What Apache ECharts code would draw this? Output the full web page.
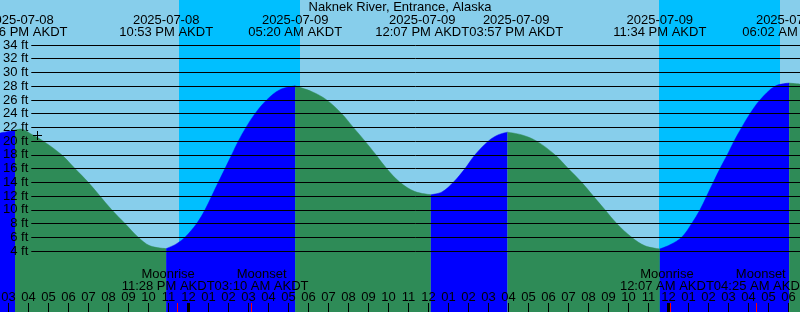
<!DOCTYPE html>
<html><head><meta charset="utf-8">
<script src="https://cdn.jsdelivr.net/npm/echarts@6/dist/echarts.min.js"></script>
<style>html,body{margin:0;padding:0;background:#87CEEB}#c{width:800px;height:312px}</style>
</head><body><div id="c"></div>
<script>
// ---------- data ----------
const chartTitle = 'Naknek River, Entrance, Alaska';
// hours counted from 2025-07-08 00:00 AKDT
const tideHours = [14.575, 15.325, 15.6, 16.175, 16.74, 17.66, 18.325, 18.99, 19.575, 20.16, 20.825, 21.49, 22.075, 22.883,
  23.375, 23.825, 24.41, 24.825, 25.16, 25.49, 25.825, 26.16, 26.49, 26.875, 27.325, 27.91, 28.575, 29.333,
  30.175, 30.91, 31.66, 32.24, 32.825, 33.375, 33.91, 34.575, 35.325, 36.117,
  36.675, 37.24, 37.825, 38.325, 38.99, 39.475, 39.95,
  40.675, 41.41, 42.325, 42.99, 43.66, 44.24, 44.825, 45.41, 46.16, 46.825, 47.567,
  48.075, 48.66, 49.16, 49.575, 49.91, 50.24, 50.575, 50.94, 51.275, 51.66, 52.075, 52.575, 53.325, 54.033,
  54.575];
const tideFeet = [21.2, 21.6, 21.75, 20.95, 20, 18, 16, 14, 12, 10, 8, 6, 4.75, 4.35,
  5.0, 6, 8, 10, 12, 14, 16, 18, 20, 22, 24, 26, 27.5, 28.05,
  27.2, 26, 24, 22, 20, 18, 16, 14, 12.65, 12.2,
  12.6, 14, 16, 18, 20, 20.9, 21.3,
  20.9, 20, 18, 16, 14, 12, 10, 8, 6, 4.75, 4.3,
  4.9, 6, 8, 10, 12, 14, 16, 18, 20, 22, 24, 26, 28, 28.45,
  28.3];
// times where the fill switches between flood (rising) and ebb (falling)
const turnHours = [15.325, 22.883, 29.333, 36.117, 39.95, 47.567, 54.033];
const firstPhaseRising = true;

const eventHours = [15.6, 22.883, 29.333, 36.117, 39.95, 47.567, 54.033];
const eventDates = ['2025-07-08', '2025-07-08', '2025-07-09', '2025-07-09', '2025-07-09', '2025-07-09', '2025-07-10'];
const eventTimes = ['03:36 PM AKDT', '10:53 PM AKDT', '05:20 AM AKDT', '12:07 PM AKDT', '03:57 PM AKDT', '11:34 PM AKDT', '06:02 AM AKDT'];

const moonHours = [23.467, 27.167, 48.117, 52.417];
const moonNames = ['Moonrise', 'Moonset', 'Moonrise', 'Moonset'];
const moonTimes = ['11:28 PM AKDT', '03:10 AM AKDT', '12:07 AM AKDT', '04:25 AM AKDT'];

const sunsetHours = [23.533, 47.533];
const sunriseHours = [29.583, 53.583];

const hourTicks = [15, 16, 17, 18, 19, 20, 21, 22, 23, 24, 25, 26, 27, 28, 29, 30, 31, 32, 33, 34, 35, 36, 37, 38, 39, 40,
  41, 42, 43, 44, 45, 46, 47, 48, 49, 50, 51, 52, 53, 54];
const hourLabels = ['03', '04', '05', '06', '07', '08', '09', '10', '11', '12', '01', '02', '03', '04', '05', '06', '07', '08',
  '09', '10', '11', '12', '01', '02', '03', '04', '05', '06', '07', '08', '09', '10', '11', '12', '01', '02', '03', '04', '05', '06'];
const midnightHours = [24, 48];

const markHours = [16.44];
const markFeet = [20.9];

const ftMin = 4, ftMax = 34, ftStep = 2;

// ---------- layout / style ----------
const X_MIN = 14.575, X_MAX = 54.575;
const PX_PER_FT = 206 / 30;
const Y_MAX = (251 + 4 * PX_PER_FT) / PX_PER_FT;
const Y_MIN = -(312 - (251 + 4 * PX_PER_FT)) / PX_PER_FT;
const FONT_FAMILY = '"Liberation Sans", Arial, Helvetica, sans-serif';
const FONT = '13px ' + FONT_FAMILY;
const FLOOD = '#0000FF', EBB = '#2E8B57', NIGHT = '#00BFFF', DAY = '#87CEEB';

const mctx = document.createElement('canvas').getContext('2d');
mctx.font = FONT;
const tw = s => mctx.measureText(s).width;

function spread(xs, ws) {
  const c = xs.slice();
  for (let i = 1; i < c.length; i++) {
    const need = (ws[i - 1] + ws[i]) / 2, gap = c[i] - c[i - 1];
    if (gap < need) { const d = (need - gap) / 2; c[i - 1] -= d; c[i] += d; }
  }
  return c;
}
function txt(s, x, y, color) {
  return { type: 'text', style: { text: s, x: x, y: y, align: 'center', verticalAlign: 'middle', font: FONT, fill: color || '#000' } };
}

// split tide into flood/ebb segments
const segments = [];
let cur = [], rising = firstPhaseRising, ti = 0;
for (let i = 0; i < tideHours.length; i++) {
  const h = tideHours[i];
  cur.push([h, tideFeet[i]]);
  if (ti < turnHours.length && Math.abs(h - turnHours[ti]) < 1e-6) {
    segments.push({ data: cur, rising: rising });
    cur = [[h, tideFeet[i]]]; rising = !rising; ti++;
  }
}
if (cur.length > 1) segments.push({ data: cur, rising: rising });

const tideSeries = segments.map(s => ({
  type: 'line', xAxisIndex: 0, yAxisIndex: 0, data: s.data, smooth: 0.35,
  showSymbol: false, silent: true, z: 2,
  lineStyle: { width: 0.5, color: s.rising ? FLOOD : EBB },
  areaStyle: { color: s.rising ? FLOOD : EBB, opacity: 1, origin: 'start' }
}));

const eventW = eventHours.map((h, i) => Math.max(tw(eventDates[i]), tw(eventTimes[i])));
const moonW = moonHours.map((h, i) => Math.max(tw(moonNames[i]), tw(moonTimes[i])));

const option = {
  animation: false,
  backgroundColor: DAY,
  title: {
    text: chartTitle, left: 'center', top: 1, padding: 0,
    textStyle: { fontSize: 13, fontWeight: 'normal', color: '#000', fontFamily: FONT_FAMILY }
  },
  grid: [
    { left: 0, right: 0, top: 0, bottom: 0 },
    { left: 29, right: 0, top: 45, bottom: 61 }
  ],
  xAxis: [
    { type: 'value', gridIndex: 0, min: X_MIN, max: X_MAX, show: false },
    { type: 'value', gridIndex: 1, min: X_MIN, max: X_MAX, show: false }
  ],
  yAxis: [
    { type: 'value', gridIndex: 0, min: Y_MIN, max: Y_MAX, show: false },
    {
      type: 'value', gridIndex: 1, min: ftMin, max: ftMax, interval: ftStep, z: 10,
      axisLine: { show: false }, axisTick: { show: false },
      axisLabel: { formatter: '{value} ft', color: '#000', fontSize: 13, fontFamily: FONT_FAMILY, margin: 3 },
      splitLine: { show: true, lineStyle: { color: '#000', width: 1 } }
    }
  ],
  series: [
    {
      type: 'custom', xAxisIndex: 0, yAxisIndex: 0, z: 1, silent: true,
      data: sunsetHours.map((h, i) => [h, sunriseHours[i]]),
      renderItem: (p, api) => {
        const a = api.coord([api.value(0), Y_MAX]), b = api.coord([api.value(1), Y_MIN]);
        const x0 = Math.round(a[0]), x1 = Math.round(b[0]);
        return { type: 'rect', shape: { x: x0, y: 0, width: x1 - x0, height: 312 }, style: { fill: NIGHT } };
      }
    },
    ...tideSeries,
    {
      type: 'custom', xAxisIndex: 0, yAxisIndex: 0, z: 20, silent: true,
      data: hourTicks.map((h, i) => [h, i]),
      renderItem: (p, api) => {
        const h = api.value(0), i = api.value(1);
        const x = api.coord([h, 0])[0];
        const w = midnightHours.indexOf(h) >= 0 ? 3 : 1;
        const x0 = Math.round(x - w / 2);
        return { type: 'group', children: [
          { type: 'rect', shape: { x: x0, y: 303, width: w, height: 9 }, style: { fill: '#000' } },
          txt(hourLabels[i], x, 297.5)
        ] };
      }
    },
    {
      type: 'custom', xAxisIndex: 0, yAxisIndex: 0, z: 21, silent: true,
      data: moonHours.map((h, i) => [h, i]),
      renderItem: (p, api) => {
        const i = api.value(1);
        const xs = moonHours.map(h => api.coord([h, 0])[0]);
        const c = spread(xs, moonW);
        const x0 = Math.round(xs[i] - 0.5);
        return { type: 'group', children: [
          { type: 'rect', shape: { x: x0, y: 303, width: 1, height: 9 }, style: { fill: '#FF0000' } },
          txt(moonNames[i], c[i], 274),
          txt(moonTimes[i], c[i], 286)
        ] };
      }
    },
    {
      type: 'custom', xAxisIndex: 0, yAxisIndex: 0, z: 21, silent: true,
      data: eventHours.map((h, i) => [h, i]),
      renderItem: (p, api) => {
        const i = api.value(1);
        const xs = eventHours.map(h => api.coord([h, 0])[0]);
        const c = spread(xs, eventW);
        return { type: 'group', children: [
          txt(eventDates[i], c[i], 20),
          txt(eventTimes[i], c[i], 32)
        ] };
      }
    },
    {
      type: 'custom', xAxisIndex: 0, yAxisIndex: 0, z: 21, silent: true,
      data: markHours.map((h, i) => [h, markFeet[i]]),
      renderItem: (p, api) => {
        const q = api.coord([api.value(0), api.value(1)]);
        const x = Math.round(q[0]), y = Math.round(q[1]);
        return { type: 'group', children: [
          { type: 'rect', shape: { x: x - 4, y: y, width: 9, height: 1 }, style: { fill: '#000' } },
          { type: 'rect', shape: { x: x, y: y - 4, width: 1, height: 9 }, style: { fill: '#000' } }
        ] };
      }
    }
  ]
};

const chart = echarts.init(document.getElementById('c'), null, { renderer: 'canvas' });
chart.setOption(option);
</script>
</body></html>
